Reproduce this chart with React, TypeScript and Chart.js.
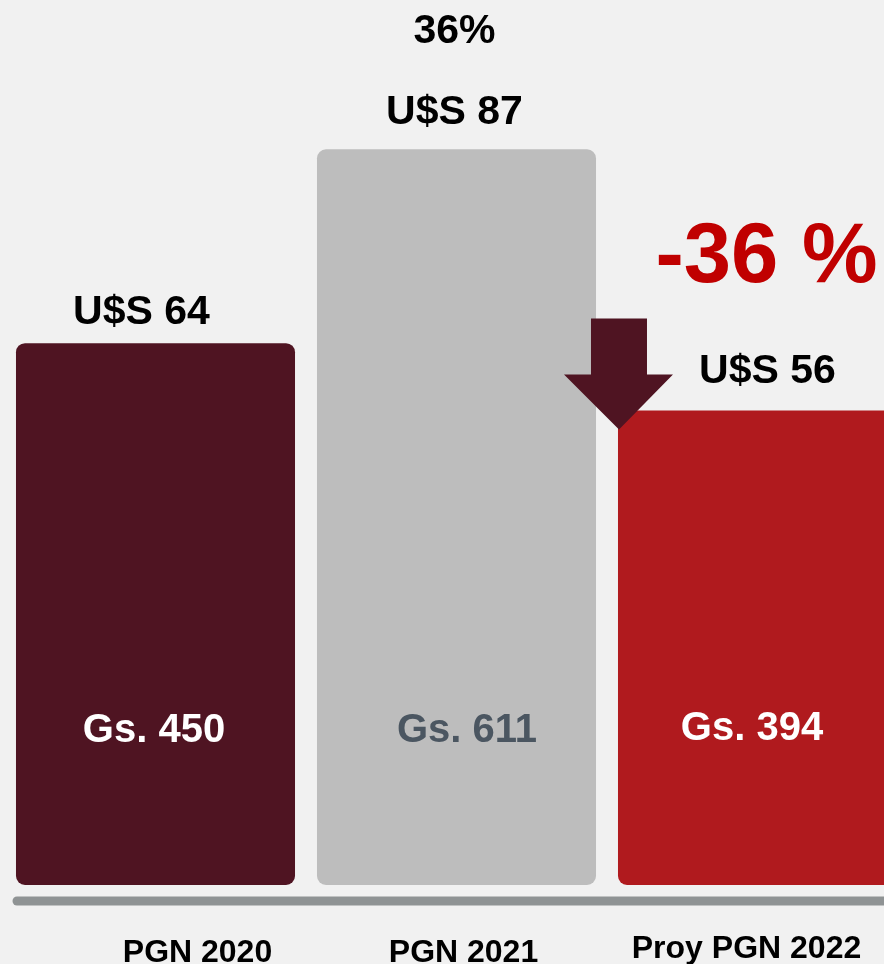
import React, { useEffect, useRef } from "react";
import { Chart, registerables } from "chart.js";

Chart.register(...registerables);

const categories = ["PGN 2020", "PGN 2021", "Proy PGN 2022"];
const gsValues = [450, 611, 394];
const gsLabels = ["Gs. 450", "Gs. 611", "Gs. 394"];
const usdLabels = ["U$S 64", "U$S 87", "U$S 56"];
const changeLabels = ["", "36%", "-36 %"];
const barColors = ["#4f1422", "#bdbdbd", "#b01a1e"];
const gsColors = ["#ffffff", "#4b5661", "#ffffff"];

const FONT = '"Liberation Sans", Arial, Helvetica, sans-serif';

const annotPlugin = {
  id: "annot",
  beforeDatasetsDraw(chart: any) {
    const ctx = chart.ctx;
    const area = chart.chartArea;
    ctx.save();
    ctx.strokeStyle = "#8f9394";
    ctx.lineWidth = 9;
    ctx.lineCap = "round";
    ctx.beginPath();
    ctx.moveTo(17, area.bottom + 16);
    ctx.lineTo(chart.width + 10, area.bottom + 16);
    ctx.stroke();
    ctx.restore();
  },
  afterDatasetsDraw(chart: any) {
    const ctx = chart.ctx;
    const area = chart.chartArea;
    const meta = chart.getDatasetMeta(0);
    const els = meta.data;
    ctx.save();
    ctx.textAlign = "center";
    ctx.textBaseline = "alphabetic";

    // USD labels above bars
    const usdDx = [-14, -2, 10];
    const usdDy = [19, 25, 28];
    ctx.font = `bold 41px ${FONT}`;
    ctx.fillStyle = "#000000";
    els.forEach((el: any, i: number) => {
      ctx.fillText(usdLabels[i], el.x + usdDx[i], el.y - usdDy[i]);
    });

    // Gs labels inside bars
    const gsDx = [-1.5, 10.5, -5.5];
    const gsDy = [143, 143, 145];
    ctx.font = `bold 40px ${FONT}`;
    els.forEach((el: any, i: number) => {
      ctx.fillStyle = gsColors[i];
      ctx.fillText(gsLabels[i], el.x + gsDx[i], area.bottom - gsDy[i]);
    });

    // change labels
    const e1 = els[1];
    ctx.font = `bold 41px ${FONT}`;
    ctx.fillStyle = "#000000";
    ctx.fillText(changeLabels[1], e1.x - 2, e1.y - 106);
    const e2 = els[2];
    ctx.font = `bold 85px ${FONT}`;
    ctx.fillStyle = "#c00000";
    ctx.fillText(changeLabels[2], e2.x + 9, e2.y - 129);

    // down arrow at left edge of last bar
    const left = e2.x - e2.width / 2;
    const tipX = left + 1;
    const tipY = e2.y + 19;
    ctx.fillStyle = "#4f1422";
    ctx.beginPath();
    ctx.moveTo(tipX - 28, tipY - 111);
    ctx.lineTo(tipX + 28, tipY - 111);
    ctx.lineTo(tipX + 28, tipY - 55);
    ctx.lineTo(tipX + 54, tipY - 55);
    ctx.lineTo(tipX, tipY);
    ctx.lineTo(tipX - 55, tipY - 55);
    ctx.lineTo(tipX - 28, tipY - 55);
    ctx.closePath();
    ctx.fill();

    // category labels below axis
    const catDx = [42, 7, -11];
    const catY = [962, 962, 958];
    ctx.font = `bold 32px ${FONT}`;
    ctx.fillStyle = "#000000";
    els.forEach((el: any, i: number) => {
      ctx.fillText(categories[i], el.x + catDx[i], catY[i]);
    });
    ctx.restore();
  },
};

export default function App() {
  const ref = useRef<HTMLCanvasElement | null>(null);
  useEffect(() => {
    document.documentElement.style.overflow = "hidden";
    document.body.style.margin = "0";
    document.body.style.background = "#f1f1f1";
    const chart = new Chart(ref.current as HTMLCanvasElement, {
      type: "bar",
      data: {
        labels: categories,
        datasets: [
          {
            data: gsValues,
            backgroundColor: barColors,
            borderRadius: 9,
            borderSkipped: false,
            barPercentage: 0.927,
            categoryPercentage: 1,
          },
        ],
      },
      options: {
        animation: false,
        responsive: false,
        maintainAspectRatio: false,
        layout: { padding: { left: 5, right: 2, top: 0, bottom: 79 } },
        plugins: { legend: { display: false }, tooltip: { enabled: false } },
        scales: {
          x: { display: false, offset: true },
          y: { display: false, min: 0, max: 735 },
        },
      },
      plugins: [annotPlugin],
    });
    return () => chart.destroy();
  }, []);
  return (
    <div style={{ position: "fixed", left: 0, top: 0, width: 910, height: 964, background: "#f1f1f1", overflow: "hidden" }}>
      <canvas ref={ref} width={910} height={964} style={{ display: "block" }} />
    </div>
  );
}
